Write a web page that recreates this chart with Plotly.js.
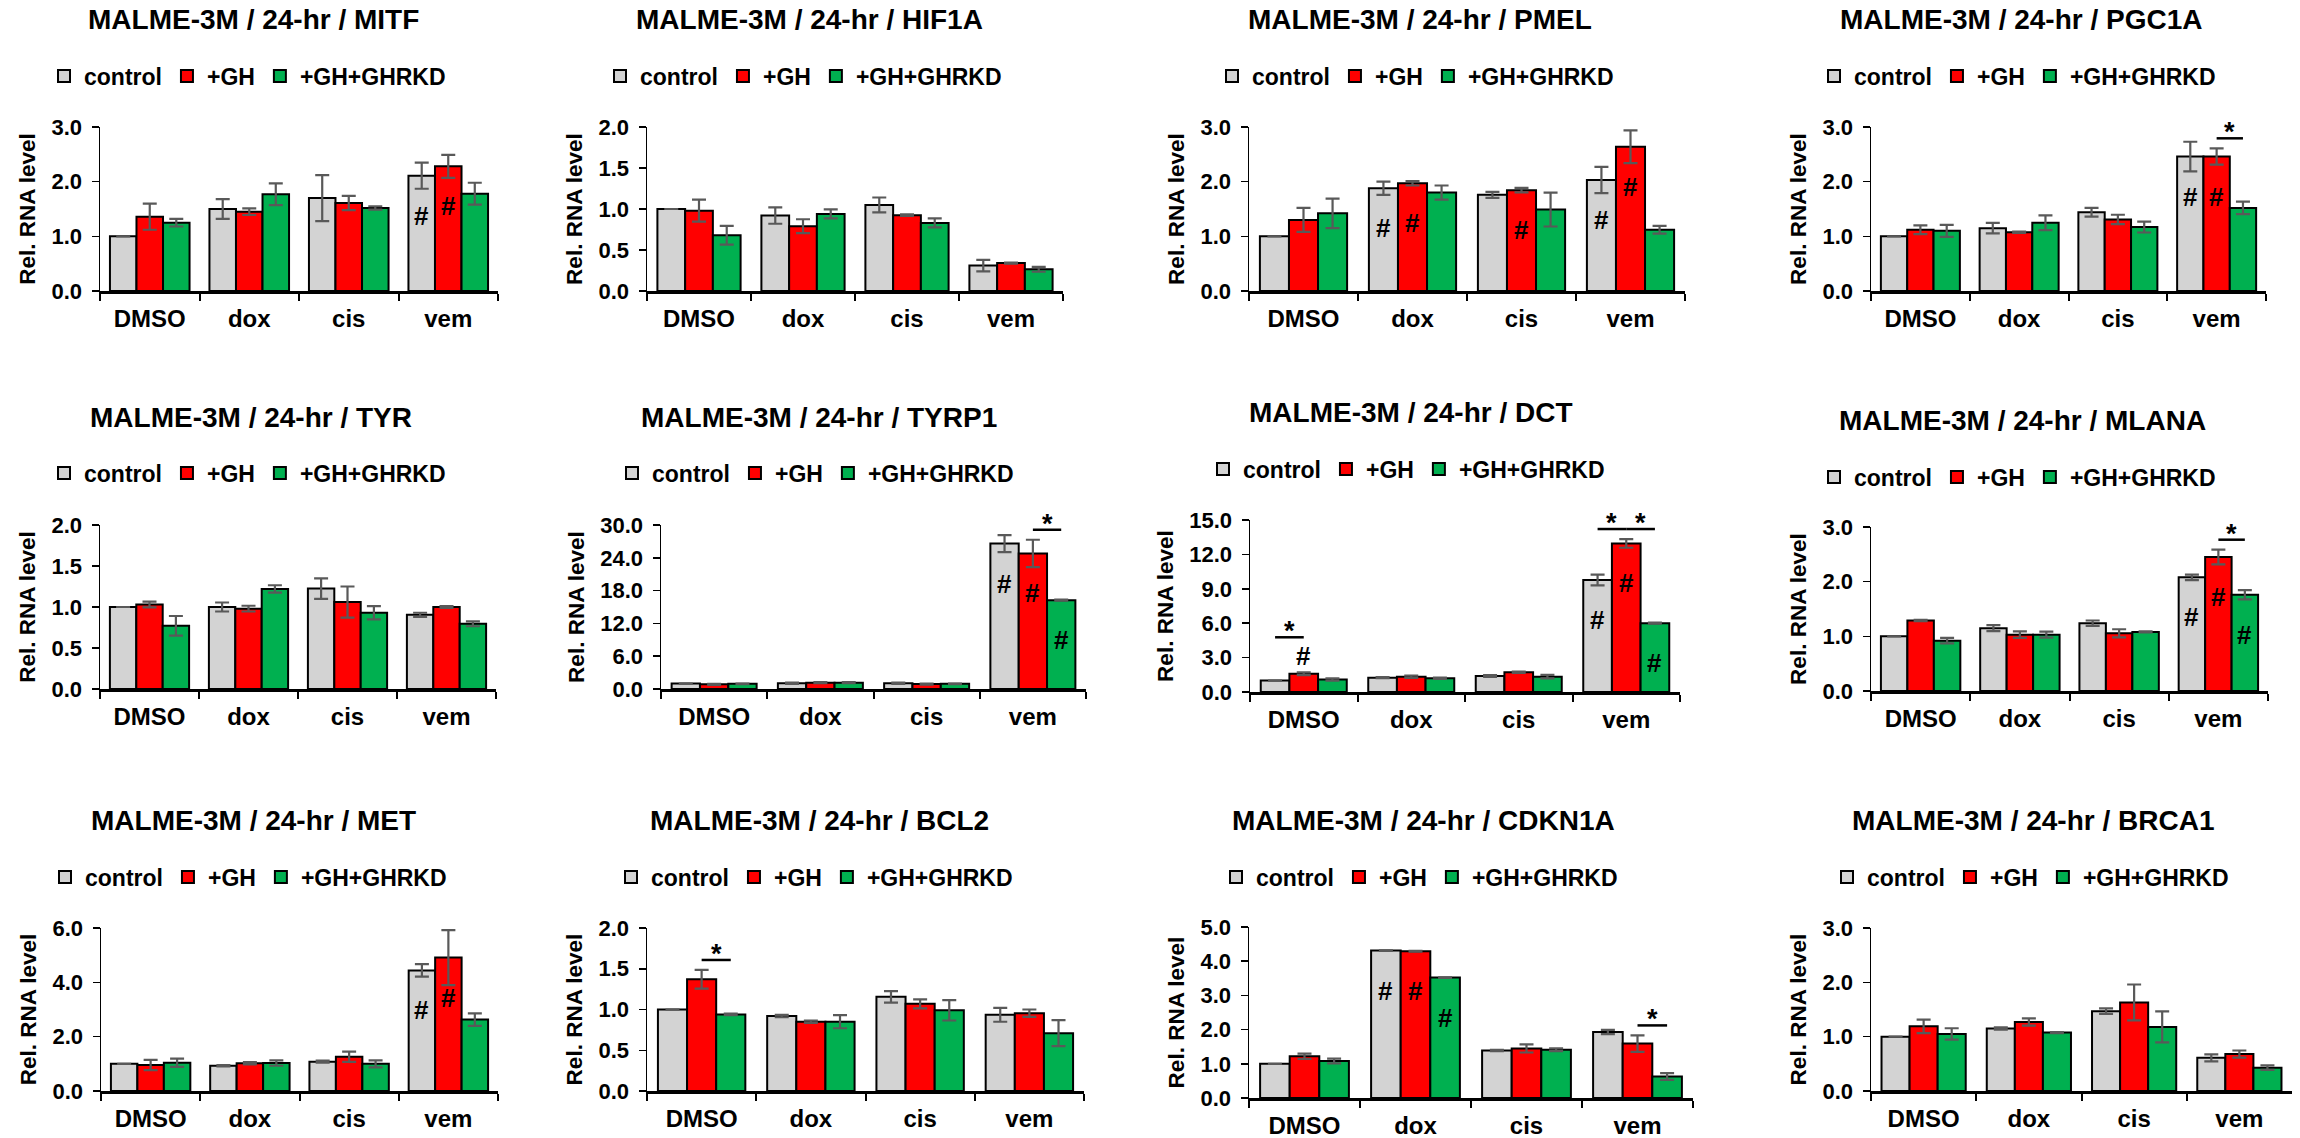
<!DOCTYPE html>
<html><head><meta charset="utf-8">
<script src="https://cdn.plot.ly/plotly-3.0.1.min.js"></script>
<style>html,body{margin:0;padding:0;background:#fff;}#chart{width:2300px;height:1138px;}</style>
</head><body><div id="chart"></div>
<script>
// ---------------- DATA ----------------
const categories = ['DMSO', 'dox', 'cis', 'vem'];
const seriesNames = ['control', '+GH', '+GH+GHRKD'];
const genes = ['MITF', 'HIF1A', 'PMEL', 'PGC1A', 'TYR', 'TYRP1', 'DCT', 'MLANA', 'MET', 'BCL2', 'CDKN1A', 'BRCA1'];
const titlePrefix = 'MALME-3M / 24-hr / ';
const yAxisTitle = 'Rel. RNA level';
const yMax = [3, 2, 3, 3, 2, 30, 15, 3, 6, 2, 5, 3];
const yStep = [1, 0.5, 1, 1, 0.5, 6, 3, 1, 2, 0.5, 1, 1];

// rows: control, +GH, +GH+GHRKD ; columns: DMSO, dox, cis, vem
const MITF_mean   = [[1.00, 1.50, 1.70, 2.11], [1.36, 1.45, 1.61, 2.28], [1.25, 1.77, 1.52, 1.78]];
const MITF_err    = [[0.00, 0.18, 0.42, 0.24], [0.24, 0.06, 0.13, 0.21], [0.07, 0.20, 0.03, 0.20]];
const HIF1A_mean  = [[1.00, 0.92, 1.05, 0.31], [0.98, 0.79, 0.925, 0.34], [0.68, 0.94, 0.83, 0.265]];
const HIF1A_err   = [[0.00, 0.10, 0.09, 0.07], [0.135, 0.085, 0.01, 0.005], [0.115, 0.055, 0.055, 0.03]];
const PMEL_mean   = [[1.00, 1.88, 1.76, 2.03], [1.30, 1.97, 1.845, 2.64], [1.42, 1.80, 1.49, 1.12]];
const PMEL_err    = [[0.00, 0.12, 0.055, 0.24], [0.22, 0.04, 0.04, 0.30], [0.27, 0.13, 0.31, 0.07]];
const PGC1A_mean  = [[1.00, 1.15, 1.44, 2.46], [1.12, 1.075, 1.31, 2.46], [1.10, 1.25, 1.17, 1.52]];
const PGC1A_err   = [[0.00, 0.095, 0.08, 0.27], [0.08, 0.01, 0.085, 0.15], [0.11, 0.135, 0.10, 0.115]];
const TYR_mean    = [[1.00, 1.00, 1.225, 0.905], [1.03, 0.98, 1.06, 1.00], [0.77, 1.22, 0.93, 0.795]];
const TYR_err     = [[0.00, 0.055, 0.125, 0.025], [0.035, 0.035, 0.19, 0.01], [0.12, 0.045, 0.08, 0.03]];
const TYRP1_mean  = [[1.00, 1.05, 1.05, 26.6], [0.85, 1.15, 0.90, 24.8], [0.95, 1.15, 0.95, 16.25]];
const TYRP1_err   = [[0.00, 0.10, 0.10, 1.55], [0.10, 0.10, 0.10, 2.5], [0.05, 0.10, 0.05, 0.10]];
const DCT_mean    = [[1.00, 1.25, 1.40, 9.76], [1.60, 1.34, 1.72, 12.96], [1.08, 1.20, 1.34, 6.00]];
const DCT_err     = [[0.00, 0.05, 0.08, 0.47], [0.12, 0.10, 0.05, 0.38], [0.10, 0.05, 0.15, 0.05]];
const MLANA_mean  = [[1.00, 1.15, 1.24, 2.08], [1.29, 1.03, 1.055, 2.45], [0.92, 1.03, 1.08, 1.76]];
const MLANA_err   = [[0.00, 0.055, 0.05, 0.05], [0.01, 0.06, 0.075, 0.135], [0.05, 0.055, 0.01, 0.085]];
const MET_mean    = [[1.00, 0.93, 1.08, 4.44], [0.955, 1.02, 1.26, 4.91], [1.04, 1.03, 1.00, 2.63]];
const MET_err     = [[0.00, 0.02, 0.04, 0.23], [0.19, 0.04, 0.19, 1.01], [0.15, 0.10, 0.13, 0.23]];
const BCL2_mean   = [[1.00, 0.92, 1.155, 0.935], [1.37, 0.85, 1.07, 0.955], [0.94, 0.85, 0.99, 0.71]];
const BCL2_err    = [[0.00, 0.015, 0.07, 0.085], [0.115, 0.015, 0.055, 0.045], [0.01, 0.08, 0.125, 0.16]];
const CDKN1A_mean = [[1.00, 4.31, 1.39, 1.93], [1.22, 4.29, 1.45, 1.59], [1.08, 3.52, 1.41, 0.63]];
const CDKN1A_err  = [[0.00, 0.01, 0.02, 0.06], [0.08, 0.01, 0.12, 0.24], [0.07, 0.01, 0.04, 0.10]];
const BRCA1_mean  = [[1.00, 1.15, 1.47, 0.61], [1.19, 1.27, 1.63, 0.68], [1.05, 1.075, 1.18, 0.43]];
const BRCA1_err   = [[0.00, 0.02, 0.05, 0.065], [0.125, 0.065, 0.33, 0.065], [0.105, 0.01, 0.285, 0.04]];

// '#' marks: [gene, category, series, drawnAboveBar]
const hashMarks = [
  ['MITF', 'vem', 0, false], ['MITF', 'vem', 1, false],
  ['PMEL', 'dox', 0, false], ['PMEL', 'dox', 1, false], ['PMEL', 'cis', 1, false],
  ['PMEL', 'vem', 0, false], ['PMEL', 'vem', 1, false],
  ['PGC1A', 'vem', 0, false], ['PGC1A', 'vem', 1, false],
  ['TYRP1', 'vem', 0, false], ['TYRP1', 'vem', 1, false], ['TYRP1', 'vem', 2, false],
  ['DCT', 'DMSO', 1, true], ['DCT', 'vem', 0, false], ['DCT', 'vem', 1, false], ['DCT', 'vem', 2, false],
  ['MLANA', 'vem', 0, false], ['MLANA', 'vem', 1, false], ['MLANA', 'vem', 2, false],
  ['MET', 'vem', 0, false], ['MET', 'vem', 1, false],
  ['CDKN1A', 'dox', 0, false], ['CDKN1A', 'dox', 1, false], ['CDKN1A', 'dox', 2, false]
];
// '*' brackets: [gene, category, fromSeries, toSeries]
const starBrackets = [
  ['PMEL', 'vem', 1, 2], ['PGC1A', 'vem', 1, 2], ['TYRP1', 'vem', 1, 2],
  ['DCT', 'DMSO', 0, 1], ['DCT', 'vem', 0, 1], ['DCT', 'vem', 1, 2],
  ['MLANA', 'vem', 1, 2], ['MET', 'vem', 1, 2], ['BCL2', 'DMSO', 1, 2], ['CDKN1A', 'vem', 1, 2]
];

const meanOf = {MITF: MITF_mean, HIF1A: HIF1A_mean, PMEL: PMEL_mean, PGC1A: PGC1A_mean, TYR: TYR_mean, TYRP1: TYRP1_mean,
  DCT: DCT_mean, MLANA: MLANA_mean, MET: MET_mean, BCL2: BCL2_mean, CDKN1A: CDKN1A_mean, BRCA1: BRCA1_mean};
const errOf = {MITF: MITF_err, HIF1A: HIF1A_err, PMEL: PMEL_err, PGC1A: PGC1A_err, TYR: TYR_err, TYRP1: TYRP1_err,
  DCT: DCT_err, MLANA: MLANA_err, MET: MET_err, BCL2: BCL2_err, CDKN1A: CDKN1A_err, BRCA1: BRCA1_err};

// ---------------- LAYOUT (pixels) ----------------
const W = 2300, H = 1138;
// [axisLeft, axisRight, plotTop, plotBottom, titleX, titleY, legendLeft, legendY]
const panelBox = [
  [100, 498, 127, 291, 253, 20, 63, 76],
  [647, 1063, 127, 291, 809, 20, 619, 76],
  [1249, 1685, 127, 291, 1420, 20, 1231, 76],
  [1871, 2266, 127, 291, 2021, 20, 1833, 76],
  [100, 496, 525, 689, 251, 417, 63, 473],
  [661, 1086, 525, 689, 819, 417, 631, 473],
  [1250, 1680, 520, 692, 1411, 412, 1222, 469],
  [1871, 2268, 527, 691, 2022, 420, 1833, 477],
  [101, 498, 928, 1091, 253, 820, 64, 877],
  [647, 1084, 928, 1091, 819, 820, 630, 877],
  [1249, 1693, 927, 1098, 1423, 820, 1235, 877],
  [1871, 2292, 928, 1091, 2033, 820, 1846, 877]
];
const FONT = 'Liberation Sans, Arial, Helvetica, sans-serif';
const colors = ['#D3D3D3', '#FF0000', '#00B050'];
const BARGAP = 0.2;
const barW = (1 - BARGAP) / seriesNames.length;

const traces = [];
const layout = {
  width: W, height: H, margin: {l: 0, r: 0, t: 0, b: 0},
  paper_bgcolor: '#ffffff', plot_bgcolor: 'rgba(0,0,0,0)',
  barmode: 'group', bargap: BARGAP, bargroupgap: 0,
  font: {family: FONT, color: '#000', size: 20, weight: 'bold'},
  showlegend: true, annotations: [], shapes: []
};

genes.forEach((g, i) => {
  const n = i + 1, sfx = n > 1 ? String(n) : '';
  const xa = 'x' + sfx, ya = 'y' + sfx, lg = 'legend' + sfx;
  const b = panelBox[i];
  const mean = meanOf[g], err = errOf[g];
  for (let s = 0; s < 3; s++) {
    traces.push({
      type: 'bar', x: categories, y: mean[s], name: seriesNames[s],
      xaxis: xa, yaxis: ya, legend: lg, showlegend: true,
      marker: {color: colors[s], line: {color: '#000', width: 2}},
      error_y: {type: 'data', array: err[s], visible: true, color: '#595959', thickness: 2.2, width: 7},
      hoverinfo: 'y'
    });
  }
  layout['xaxis' + sfx] = {
    domain: [b[0] / W, b[1] / W], anchor: ya, type: 'category',
    categoryorder: 'array', categoryarray: categories, range: [-0.5, 3.5],
    showline: true, linecolor: '#000', linewidth: 2.5, mirror: false,
    ticks: 'outside', tickson: 'boundaries', ticklen: 7, tickwidth: 2, tickcolor: '#000',
    showgrid: false, zeroline: false, fixedrange: true, ticklabelstandoff: 5,
    tickfont: {family: FONT, size: 24, color: '#000', weight: 'bold'}
  };
  layout['yaxis' + sfx] = {
    domain: [1 - b[3] / H, 1 - b[2] / H], anchor: xa, range: [0, yMax[i]],
    tick0: 0, dtick: yStep[i], tickformat: '.1f',
    showline: true, linecolor: '#000', linewidth: 1.5,
    ticks: 'outside', ticklen: 7, tickwidth: 1.5, tickcolor: '#000',
    showgrid: false, zeroline: false, fixedrange: true, ticklabelstandoff: 5,
    tickfont: {family: FONT, size: 22, color: '#000', weight: 'bold'},
    title: {text: yAxisTitle, standoff: 9, font: {family: FONT, size: 22.5, color: '#000', weight: 'bold'}}
  };
  layout[lg] = {
    orientation: 'h', x: (b[6] - 19) / W, y: 1 - b[7] / H, xanchor: 'left', yanchor: 'middle',
    xref: 'paper', yref: 'paper', bgcolor: 'rgba(0,0,0,0)', borderwidth: 0,
    font: {family: FONT, size: 23, color: '#000', weight: 'bold'}, traceorder: 'normal',
    itemclick: false, itemdoubleclick: false
  };
  layout.annotations.push({
    xref: 'paper', yref: 'paper', x: b[4] / W, y: 1 - b[5] / H, xanchor: 'center', yanchor: 'middle',
    text: titlePrefix + g, showarrow: false, font: {family: FONT, size: 28, color: '#000', weight: 'bold'}
  });
});

// helpers for significance marks (pixel offsets converted to data units)
function upp(i) { const b = panelBox[i]; return yMax[i] / (b[3] - b[2]); }
function barX(cat, s) { return categories.indexOf(cat) + (s - (seriesNames.length - 1) / 2) * barW; }
function axisIds(i) { const sfx = i > 0 ? String(i + 1) : ''; return ['x' + sfx, 'y' + sfx]; }

const hashAboveY = {};
hashMarks.forEach(([g, cat, s, above]) => {
  const i = genes.indexOf(g), k = categories.indexOf(cat);
  const [xa, ya] = axisIds(i);
  const top = meanOf[g][s][k];
  let y, shift;
  if (above) { y = top + errOf[g][s][k] + 16 * upp(i); shift = 0; hashAboveY[g + cat] = y; }
  else { y = top; shift = -40; }
  layout.annotations.push({xref: xa, yref: ya, x: barX(cat, s), y: y, yshift: shift, xanchor: 'center', yanchor: 'middle',
    text: '#', showarrow: false, font: {family: FONT, size: 26, color: '#000', weight: 'bold'}});
});

starBrackets.forEach(([g, cat, s0, s1]) => {
  const i = genes.indexOf(g), k = categories.indexOf(cat);
  const [xa, ya] = axisIds(i);
  let yb = 0;
  for (let s = s0; s <= s1; s++) yb = Math.max(yb, meanOf[g][s][k] + errOf[g][s][k]);
  yb += 10 * upp(i);
  if (hashAboveY[g + cat] !== undefined) yb = Math.max(yb, hashAboveY[g + cat] + 19 * upp(i));
  const x0 = barX(cat, s0), x1 = barX(cat, s1);
  layout.shapes.push({type: 'line', xref: xa, yref: ya, x0: x0, x1: x1, y0: yb, y1: yb, line: {color: '#000', width: 2.5}});
  layout.annotations.push({xref: xa, yref: ya, x: (x0 + x1) / 2, y: yb, yshift: 6, xanchor: 'center', yanchor: 'middle',
    text: '*', showarrow: false, font: {family: FONT, size: 27, color: '#000', weight: 'bold'}});
});

Plotly.newPlot('chart', traces, layout, {displayModeBar: false, staticPlot: true});
</script>
</body></html>
